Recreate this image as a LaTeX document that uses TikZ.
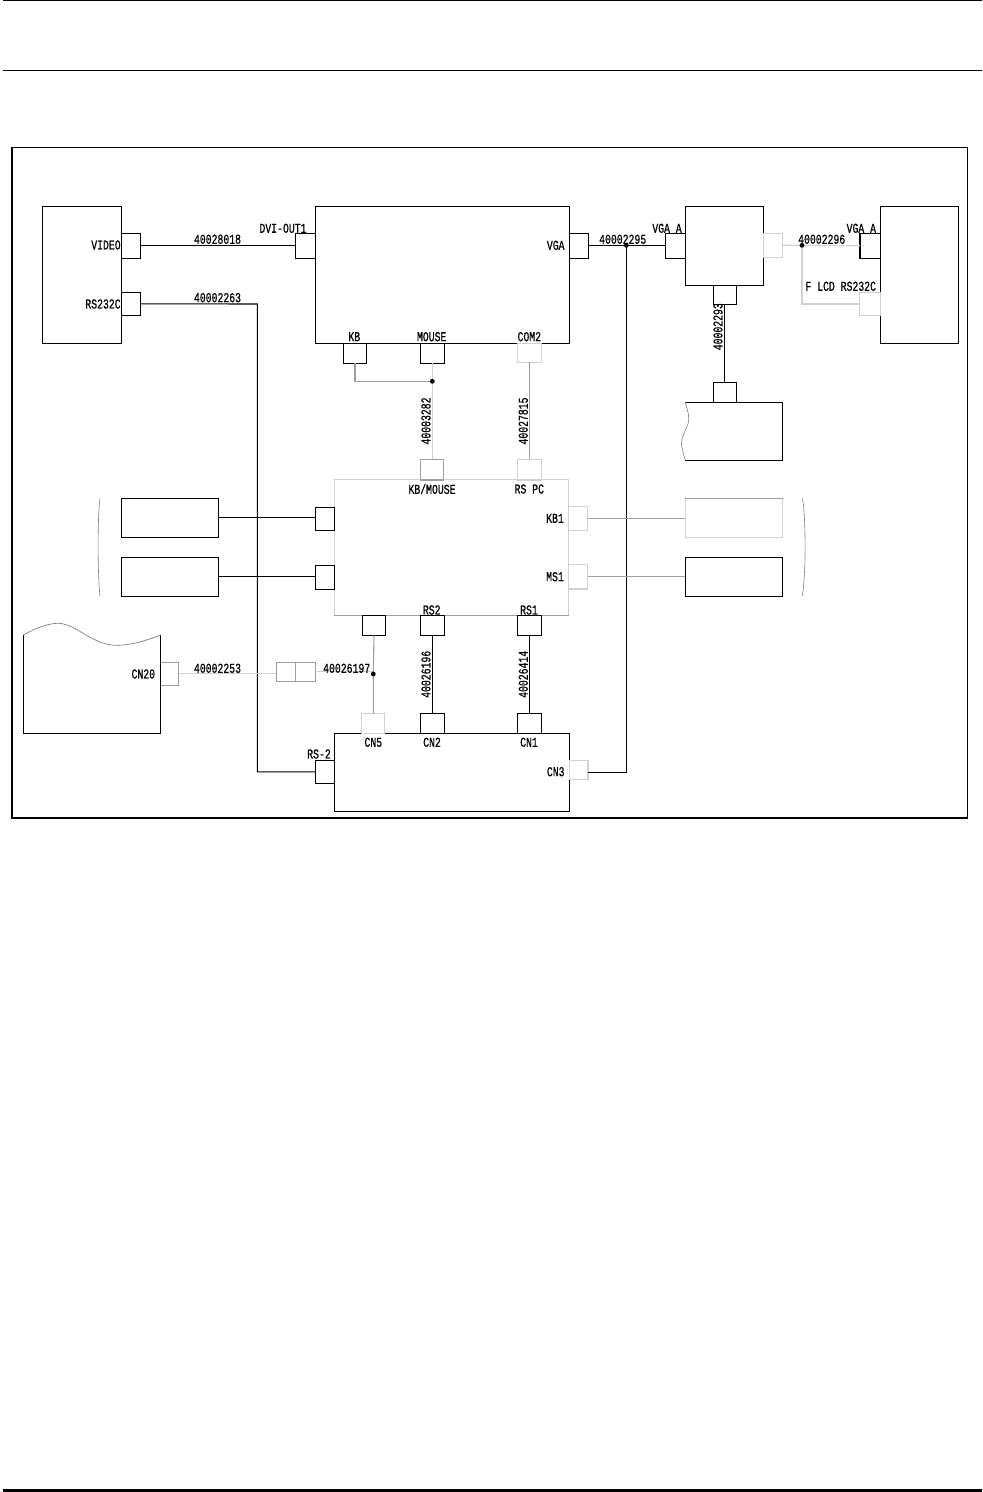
\documentclass[tikz,border=0pt]{standalone}
\usepackage{fontspec}
\newfontfamily\lblfont[FakeStretch=0.72,FakeBold=0.6]{Liberation Mono}
\definecolor{midgrey}{gray}{0.62}
\definecolor{lightgrey}{gray}{0.82}
\tikzset{
  ln/.style={line width=0.55pt,draw=black},
  ml/.style={line width=0.55pt,draw=midgrey},
  ll/.style={line width=0.55pt,draw=lightgrey},
  block/.style={rectangle,inner sep=0pt,outer sep=0pt,line width=0.6pt,draw=black},
  mblock/.style={block,draw=midgrey},
  lblock/.style={block,draw=lightgrey},
  lbl/.style={inner sep=0pt,font=\lblfont\fontsize{6.8pt}{7pt}\selectfont,text=black},
  vlbl/.style={lbl,rotate=90},
  jdot/.style={circle,fill=black,inner sep=0pt,minimum size=2.4pt},
  thinarc/.style={line width=0.3pt,draw=gray}
}
% name, x1, y1, x2, y2, style
\newcommand\bx[6]{\node[#6,minimum width={(#4-#2)*0.5pt},minimum height={(#5-#3)*0.5pt}] (#1) at ({(#2+#4)/2},{(#3+#5)/2}) {};}
\begin{document}
\begin{tikzpicture}[x=0.5pt,y=-0.5pt]
\useasboundingbox (0,0) rectangle (982,1492);
% page rules
\draw[line width=0.75pt] (3,0.7) -- (982,0.7);
\draw[line width=0.6pt] (3,70.5) -- (982,70.5);
\draw[line width=1.5pt] (3,1490.5) -- (982,1490.5);
% frame
\draw[line width=0.5pt] (12,147.3) -- (967.5,147.3) -- (967.5,818);
\draw[line width=1pt] (12,147.3) -- (12,818) -- (967.5,818);

% blocks upper row
\bx{video}{42.3}{206.3}{121.7}{343.3}{block}
\bx{pc}{315.3}{206.3}{569.3}{343.3}{block}
\bx{split}{685.3}{206.3}{763.7}{285.3}{block}
\bx{lcd}{880.3}{206.3}{958.3}{343.3}{block}
% middle
\bx{hub}{334.3}{479.8}{568.7}{615.3}{lblock}
\draw[ml] (hub.south west) -- (hub.south east);
\bx{kbl}{121.3}{498.3}{218.3}{537.3}{block}
\bx{msl}{121.3}{557.3}{218.3}{596.3}{block}
\bx{kbr}{685.3}{498.3}{782.7}{537.3}{lblock}
\draw[ml] (kbr.north west) -- (kbr.north east);
\bx{msr}{685.3}{557.3}{782.7}{596.3}{block}
% lower
\bx{low}{334.3}{733.3}{569.3}{811.3}{block}

% connectors
\bx{cvideo}{121.7}{233.3}{140.7}{258.3}{block}
\bx{crs}{121.7}{292.3}{140.7}{315.3}{block}
\bx{cdvi}{295.3}{233.3}{315.3}{258.3}{block}
\bx{ckb}{343.3}{343.3}{366.7}{363.3}{block}
\bx{cmouse}{420.3}{343.3}{444.3}{363.3}{block}
\bx{ccom}{517.3}{343.3}{541.7}{362.3}{lblock}
\bx{cvga}{569.3}{233.3}{588.7}{258.3}{block}
\bx{cvgaa}{665.7}{233.3}{685.3}{258.3}{block}
\bx{csplr}{763.7}{233.3}{782.7}{257.3}{lblock}
\bx{csplb}{713.3}{285.3}{736.7}{304.3}{block}
\bx{cmon}{713.3}{382.3}{736.7}{402.3}{block}
\bx{cvgab}{860}{233.3}{880.3}{258.3}{block}
\bx{cflcd}{859.7}{292.7}{880.3}{315.3}{lblock}
\bx{chubkm}{420.3}{459.3}{443.7}{480}{mblock}
\bx{chubrs}{517.3}{459.3}{541.7}{480}{lblock}
\bx{chl1}{315.3}{507.3}{334.3}{530.3}{block}
\bx{chl2}{315.3}{565.3}{334.3}{589.3}{block}
\bx{ckb1}{568.7}{506.3}{587.7}{530.3}{lblock}
\bx{cms1}{568.7}{564.3}{587.7}{589}{lblock}
\bx{chb5}{362.3}{615.3}{385.7}{635.3}{block}
\bx{crs2}{420.3}{615.3}{444.3}{635.3}{block}
\bx{crs1}{517.3}{615.3}{541.7}{635.3}{block}
\bx{ccn5}{361.3}{713.3}{384.3}{733.3}{lblock}
\bx{ccn2}{420.3}{713.3}{444.3}{733.3}{block}
\bx{ccn1}{517.3}{713.3}{541.7}{733.3}{block}
\bx{crsb}{315.3}{760.3}{334.3}{783.3}{block}
\bx{ccn3}{569.3}{760.3}{588}{779.3}{lblock}
\bx{ccn20}{160.3}{662.3}{178.7}{685.3}{mblock}
\bx{cda}{276.3}{662.3}{295.3}{681.3}{mblock}
\bx{cdb}{295.3}{662.3}{315.3}{681.3}{mblock}

% wavy blocks
\draw[ln] (160.3,635) -- (160.3,733.3) -- (23.3,733.3) -- (23.3,635);
\draw[line width=0.35pt,draw=gray] (23.3,635) .. controls (36,628) and (48,623.3) .. (58,623.3)
  .. controls (76,623.3) and (92,645.3) .. (116.7,645.3)
  .. controls (132,645.3) and (148,640) .. (160.3,635);
\draw[ln] (685.3,402.3) -- (782.7,402.3) -- (782.7,460.3) -- (685.3,460.3);
\draw[thinarc] (685.3,402.3) .. controls (688,412) and (690,418) .. (688,424)
  .. controls (685,432) and (681,438) .. (681.5,444) .. controls (682,450) and (684,456) .. (685.3,460.3);
% parentheses
\draw[thinarc] (100,498.3) .. controls (97.5,515) and (97.5,575) .. (100,596);
\draw[thinarc] (802.3,498.3) .. controls (806,515) and (806,575) .. (802.3,596);

% junction points
\coordinate (j1) at (432.3,381.3);
\coordinate (j2) at (626.3,245.3);
\coordinate (j3) at (802,245.3);
\coordinate (j4) at (373.3,674);
\coordinate (rsbend) at (257.3,304);
\coordinate (cn3bend) at (626.3,772.3);

% wires
\draw[ln] (cvideo.east) -- (cdvi.west);
\draw[ln] (crs.east) -- (rsbend) |- (crsb.west);
\draw[ml] (ckb.south) |- (j1);
\draw[ll] (cmouse.south -| j1) -- (j1);
\draw[ll] (j1) -- (chubkm.north -| j1);
\draw[ml] (ccom.south) -- (chubrs.north);
\draw[ln] (cvga.east) -- (cvgaa.west);
\draw[ln] (j2) -- (cn3bend) -- (ccn3.east |- cn3bend);
\draw[ln] (csplb.south -| 724.3,0) -- (cmon.north -| 724.3,0);
\draw[ll] (csplr.east) -- (j3) -- (cvgab.west);
\draw[ll] (j3) |- (cflcd.west);
\draw[ln] (kbl.east) -- (kbl.east -| chl1.west);
\draw[ln] (msl.east) -- (msl.east -| chl2.west);
\draw[ml] (ckb1.east) -- (ckb1.east -| kbr.west);
\draw[ml] (cms1.east) -- (cms1.east -| msr.west);
\draw[ll] (ccn20.east) -- (ccn20.east -| cda.west);
\draw[ll] (cdb.east) -- (cdb.east -| j4);
\draw[ml] (chb5.south) -- (j4) -- (ccn5.north -| j4);
\draw[ln] (crs2.south) -- (ccn2.north);
\draw[ln] (crs1.south) -- (ccn1.north);

% junction dots
\node[jdot] (d1) at (j1) {};
\node[jdot] (d2) at (j2) {};
\node[jdot] (d3) at (j3) {};
\node[jdot] (d4) at (j4) {};

% labels
\node[lbl] (t1) at (106,245) {VIDEO};
\node[lbl] (t2) at (103,304) {RS232C};
\node[lbl] (t3) at (217.5,239.3) {40028018};
\node[lbl] (t4) at (217.5,297.7) {40002263};
\node[lbl] (t5) at (283,228.3) {DVI-OUT1};
\node[lbl] (t6) at (354.3,336.7) {KB};
\node[lbl] (t7) at (431.7,336.7) {MOUSE};
\node[lbl] (t8) at (529.3,336.7) {COM2};
\node[vlbl] (t9) at (426,421) {40003282};
\node[vlbl] (t10) at (523.3,421) {40027815};
\node[lbl] (t11) at (555.7,245.3) {VGA};
\node[lbl] (t12) at (622.7,239.3) {40002295};
\node[lbl] (t13) at (667,228.3) {VGA A};
\node[lbl] (t14) at (821.7,239.3) {40002296};
\node[lbl] (t15) at (861.3,228.3) {VGA A};
\node[lbl] (t16) at (840.7,286.3) {F LCD RS232C};
\node[vlbl] (t17) at (718,326.7) {40002293};
\node[lbl] (t18) at (432,489) {KB/MOUSE};
\node[lbl] (t19) at (529.3,489) {RS PC};
\node[lbl] (t20) at (555,518.3) {KB1};
\node[lbl] (t21) at (555,576.7) {MS1};
\node[lbl] (t22) at (431.7,610) {RS2};
\node[lbl] (t23) at (529,610) {RS1};
\node[lbl] (t24) at (143.3,674) {CN20};
\node[lbl] (t25) at (217.5,668.3) {40002253};
\node[lbl] (t26) at (346.7,668.3) {40026197};
\node[vlbl] (t27) at (426,674.3) {40026196};
\node[vlbl] (t28) at (523.3,674.3) {40026414};
\node[lbl] (t29) at (373.3,742.3) {CN5};
\node[lbl] (t30) at (432,742.3) {CN2};
\node[lbl] (t31) at (529,742.3) {CN1};
\node[lbl] (t32) at (555.7,771.7) {CN3};
\node[lbl] (t33) at (319,754) {RS-2};
\end{tikzpicture}
\end{document}
